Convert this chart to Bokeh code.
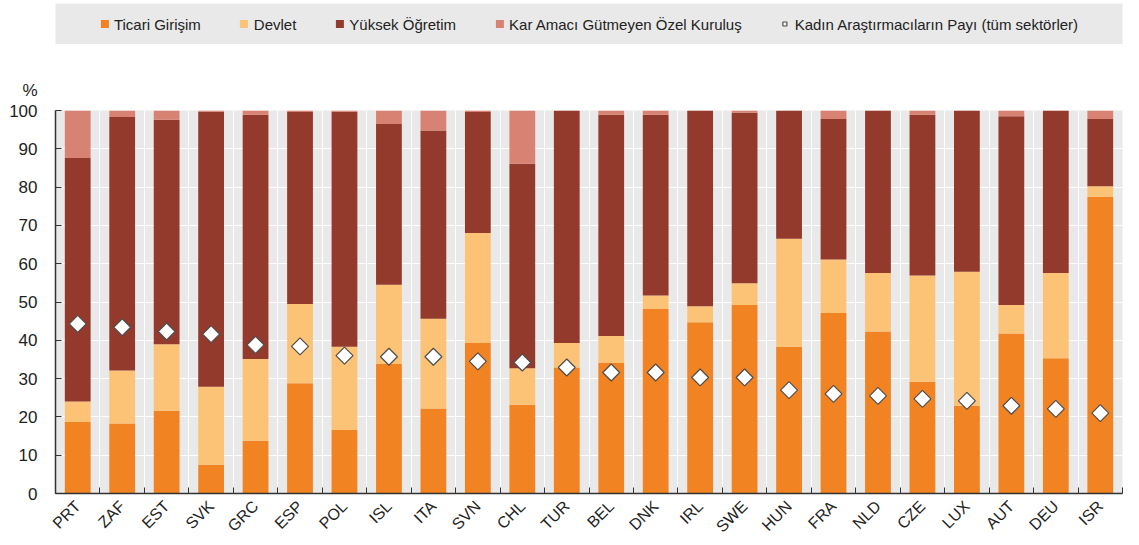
import math
from bokeh.plotting import figure
from bokeh.layouts import column
from bokeh.models import (ColumnDataSource, Range1d, FixedTicker, Legend, LegendItem, Title)
from bokeh.embed import file_html
from bokeh.resources import INLINE

countries = ["PRT", "ZAF", "EST", "SVK", "GRC", "ESP", "POL", "ISL", "ITA", "SVN", "CHL", "TUR",
             "BEL", "DNK", "IRL", "SWE", "HUN", "FRA", "NLD", "CZE", "LUX", "AUT", "DEU", "ISR"]
ticari = [18.7, 18.3, 21.6, 7.5, 13.8, 28.8, 16.6, 33.8, 22.2, 39.3, 23.2, 32.9,
          34.1, 48.2, 44.7, 49.2, 38.3, 47.1, 42.3, 29.2, 22.9, 41.8, 35.3, 77.5]
devlet = [5.3, 13.8, 17.4, 20.4, 21.3, 20.7, 21.7, 20.7, 23.4, 28.7, 9.5, 6.4,
          7.0, 3.5, 4.2, 5.7, 28.2, 14.0, 15.3, 27.7, 35.0, 7.4, 22.3, 2.7]
yuksek = [63.6, 66.2, 58.6, 71.8, 63.8, 50.1, 61.4, 42.0, 49.2, 31.6, 53.4, 60.7,
          57.8, 47.2, 51.1, 44.5, 33.5, 36.7, 42.4, 42.0, 42.1, 49.3, 42.4, 17.6]
kar = [12.4, 1.7, 2.4, 0.3, 1.1, 0.4, 0.3, 3.5, 5.2, 0.4, 13.9, 0.0,
       1.1, 1.1, 0.0, 0.6, 0.0, 2.2, 0.0, 1.1, 0.0, 1.5, 0.0, 2.2]
kadin = [44.3, 43.4, 42.3, 41.6, 38.8, 38.4, 36.0, 35.7, 35.7, 34.5, 34.2, 32.9,
         31.6, 31.6, 30.3, 30.3, 27.0, 26.0, 25.5, 24.7, 24.2, 22.9, 22.1, 21.0]

series_names = ["Ticari Girişim", "Devlet", "Yüksek Öğretim", "Kar Amacı Gütmeyen Özel Kuruluş"]
marker_name = "Kadın Araştırmacıların Payı (tüm sektörler)"
colors = ["#F28322", "#FCC275", "#943A2D", "#D88273"]
stack_cols = ["ticari", "devlet", "yuksek", "kar"]

FONT = "Liberation Sans"
GREY = "#E9E9E9"
TXT = "#222222"

x = list(range(len(countries)))
src = ColumnDataSource(dict(x=x, ticari=ticari, devlet=devlet, yuksek=yuksek, kar=kar, kadin=kadin))

# ---------------- legend strip (its ranges show none of the data) ----------------
leg = figure(width=1139, height=44, output_backend="svg", toolbar_location=None,
             x_range=Range1d(1000, 1001), y_range=Range1d(1000, 1001),
             min_border_left=55, min_border_right=16, min_border_top=3, min_border_bottom=0)
leg.axis.visible = False
leg.grid.visible = False
leg.background_fill_color = GREY
leg.border_fill_color = "white"
leg.outline_line_color = None
leg_bars = leg.vbar_stack(stack_cols, x="x", width=0.5, color=colors, line_color=None, source=src)
leg_pt = leg.scatter(x="x", y="kadin", source=src, marker="square", angle=math.pi / 4,
                     size=12, fill_color="white", line_color="#4d4d4d", line_width=1.2)
items = [LegendItem(label=n, renderers=[r]) for n, r in zip(series_names, leg_bars)]
items.append(LegendItem(label=marker_name, renderers=[leg_pt]))
legend = Legend(items=items, orientation="horizontal", location="center", margin=0,
                padding=0, spacing=38, glyph_width=10, glyph_height=10, label_standoff=5,
                background_fill_alpha=0.0, border_line_color=None,
                label_text_font=FONT, label_text_font_size="15px", label_text_color=TXT)
leg.add_layout(legend, "center")

# ---------------- main chart ----------------
p = figure(width=1139, height=500, output_backend="svg", toolbar_location=None,
           x_range=Range1d(-0.5, len(countries) - 0.5), y_range=Range1d(0, 100),
           min_border_left=54, min_border_right=17, min_border_top=66, min_border_bottom=51)
p.background_fill_color = GREY
p.border_fill_color = "white"
p.outline_line_color = None

p.vbar_stack(stack_cols, x="x", width=0.58, color=colors, line_color=None, source=src)
p.scatter(x="x", y="kadin", source=src, marker="square", angle=math.pi / 4, size=12,
          fill_color="white", line_color="#4d4d4d", line_width=1.2)

bounds = [i - 0.5 for i in range(len(countries) + 1)]
p.xaxis.ticker = FixedTicker(ticks=x, minor_ticks=bounds)
p.xaxis.major_label_overrides = {i: c for i, c in enumerate(countries)}
p.xaxis.major_label_orientation = math.pi / 4
p.xaxis.major_tick_line_color = None
p.xaxis.minor_tick_in = 6
p.xaxis.minor_tick_out = 0
p.xaxis.minor_tick_line_color = "#333333"
p.xaxis.major_label_standoff = 4
p.xgrid.grid_line_color = None
p.xgrid.minor_grid_line_color = "white"
p.xgrid.minor_grid_line_width = 1

p.yaxis.ticker = FixedTicker(ticks=list(range(0, 101, 10)))
p.yaxis.major_tick_in = 6
p.yaxis.major_tick_out = 0
p.yaxis.minor_tick_line_color = None
p.yaxis.major_tick_line_color = "#333333"
p.yaxis.major_label_standoff = 18
p.ygrid.grid_line_color = "white"
p.ygrid.grid_line_width = 1

for ax in (p.xaxis, p.yaxis):
    ax.axis_line_color = "#333333"
    ax.axis_line_width = 1.5
    ax.major_label_text_font = FONT
    ax.major_label_text_color = TXT
p.yaxis.major_label_text_font_size = "17px"
p.xaxis.major_label_text_font_size = "16px"

pct = Title(text="%", align="left", offset=-33, standoff=22, text_font=FONT,
            text_font_size="17px", text_font_style="normal", text_color=TXT)
p.add_layout(pct, "above")

page = column(leg, p, spacing=0)
open("out.html", "w").write(file_html(page, INLINE))
